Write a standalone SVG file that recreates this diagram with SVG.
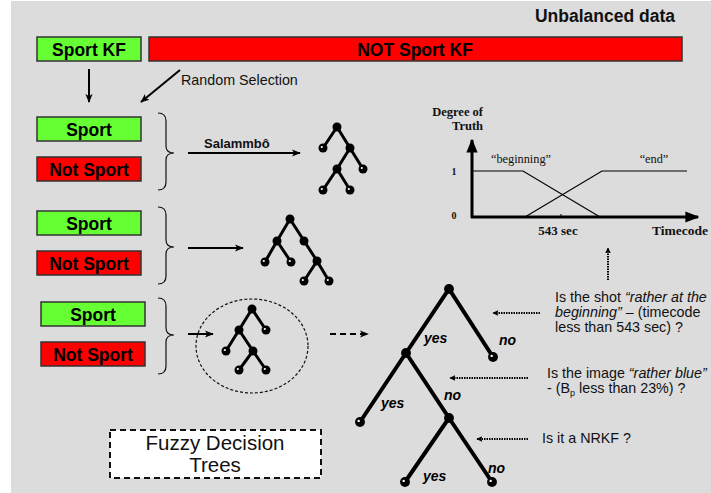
<svg xmlns="http://www.w3.org/2000/svg" width="711" height="493" viewBox="0 0 711 493">
<defs>
<style>
.bg{fill:#dcdcdc}
.g{fill:#66ff33;stroke:#333;stroke-width:1.5}
.r{fill:#ff0000;stroke:#333;stroke-width:1.5}
.bt{font-family:"Liberation Sans",Arial,sans-serif;font-weight:bold;font-size:17.5px;text-anchor:middle;fill:#000}
.t{font-family:"Liberation Sans",Arial,sans-serif;font-size:14.3px;fill:#111}
.s{font-family:"Liberation Serif","Times New Roman",serif;fill:#111}
.ln{stroke:#000;fill:none}
.br{stroke:#111;fill:none;stroke-width:1.2}
.tr{stroke:#000;stroke-width:3;fill:none;stroke-linecap:round}
.bigtr{stroke:#000;stroke-width:4;fill:none;stroke-linecap:round}
.yn{font-family:"Liberation Sans",Arial,sans-serif;font-weight:bold;font-style:italic;font-size:14px;fill:#000}
.dot{stroke:#000;stroke-width:2;stroke-dasharray:1.5 1;fill:none}
</style>
<marker id="ah" viewBox="0 0 10 10" refX="9" refY="5" markerWidth="6" markerHeight="6" orient="auto" markerUnits="userSpaceOnUse">
<path d="M0,0 L10,5 L0,10 L2,5 Z" fill="#000"/>
</marker>
<marker id="ahs" viewBox="0 0 10 10" refX="9" refY="5" markerWidth="9" markerHeight="9" orient="auto" markerUnits="userSpaceOnUse">
<path d="M0,1 L10,5 L0,9 L2.5,5 Z" fill="#000"/>
</marker>
<marker id="ahb" viewBox="0 0 10 10" refX="9" refY="5" markerWidth="14" markerHeight="14" orient="auto" markerUnits="userSpaceOnUse">
<path d="M0,1 L10,5 L0,9 Z" fill="#000"/>
</marker>
<g id="node">
<circle r="4.5" fill="#000"/>
</g>
<g id="leaf">
<circle r="4.5" fill="#000"/>
<circle cx="-1.2" cy="-1" r="1.1" fill="#fff"/>
</g>
</defs>

<rect class="bg" x="11" y="1" width="700" height="492"/>

<text x="675" y="22" font-family="Liberation Sans,Arial,sans-serif" font-weight="bold" font-size="17.5" text-anchor="end" fill="#111">Unbalanced data</text>

<g id="sportkf"><rect class="g" x="37" y="37" width="104" height="24"/><text class="bt" x="89" y="55.5">Sport KF</text></g>
<g id="notsportkf"><rect class="r" x="149" y="37" width="533" height="24"/><text class="bt" x="415" y="55.5">NOT Sport KF</text></g>

<g id="sport1"><rect class="g" x="37" y="117" width="104" height="24"/><text class="bt" x="89" y="135.5">Sport</text></g>
<g id="notsport1"><rect class="r" x="37" y="157" width="104" height="24"/><text class="bt" x="89" y="175.5">Not Sport</text></g>
<g id="sport2"><rect class="g" x="37" y="211" width="104" height="24"/><text class="bt" x="89" y="229.5">Sport</text></g>
<g id="notsport2"><rect class="r" x="37" y="251" width="104" height="24"/><text class="bt" x="89" y="269.5">Not Sport</text></g>
<g id="sport3"><rect class="g" x="41" y="302" width="104" height="24"/><text class="bt" x="93" y="320.5">Sport</text></g>
<g id="notsport3"><rect class="r" x="41" y="342" width="104" height="24"/><text class="bt" x="93" y="360.5">Not Sport</text></g>

<g id="braces">
<path class="br" d="M158,113 Q166,113 166,121 L166,146 Q166,153 174,153 Q166,153 166,160 L166,182 Q166,190 158,190"/>
<path class="br" d="M158,207 Q166,207 166,215 L166,240 Q166,247 174,247 Q166,247 166,254 L166,276 Q166,284 158,284"/>
<path class="br" d="M158,298 Q166,298 166,306 L166,328 Q166,335 174,335 Q166,335 166,342 L166,366 Q166,374 158,374"/>
</g>

<g id="connectors">
<line class="ln" stroke-width="2" x1="89" y1="69" x2="89" y2="102" marker-end="url(#ahs)"/>
<line class="ln" stroke-width="2" x1="180" y1="70" x2="141" y2="102" marker-end="url(#ahs)"/>
<line class="ln" stroke-width="2" x1="188" y1="153" x2="300" y2="153" marker-end="url(#ahs)"/>
<line class="ln" stroke-width="2" x1="188" y1="248" x2="243" y2="248" marker-end="url(#ahs)"/>
<line class="ln" stroke-width="2" x1="188" y1="334" x2="213" y2="334" marker-end="url(#ahs)"/>
<line class="ln" stroke-width="2" stroke-dasharray="6 4" x1="330" y1="334" x2="368" y2="334" marker-end="url(#ahs)"/>
<line class="dot" x1="540" y1="313" x2="493" y2="313" marker-end="url(#ah)"/>
<line class="dot" x1="528" y1="378" x2="450" y2="378" marker-end="url(#ah)"/>
<line class="dot" x1="528" y1="439" x2="477" y2="439" marker-end="url(#ah)"/>
<line class="dot" x1="608" y1="280" x2="608" y2="248" marker-end="url(#ah)"/>
</g>

<text class="t" x="181" y="85">Random Selection</text>
<text x="204" y="148" font-family="Liberation Sans,Arial,sans-serif" font-weight="bold" font-size="13" fill="#111">Salammbô</text>

<g id="tree1">
<path class="tr" d="M323,148 L337,127 L363,169 M350,148 L337,169 L323,190 M337,169 L350,190"/>
<use href="#node" x="337" y="127"/><use href="#leaf" x="323" y="148"/><use href="#node" x="350" y="148"/>
<use href="#leaf" x="363" y="169"/><use href="#node" x="337" y="169"/><use href="#leaf" x="323" y="190"/><use href="#leaf" x="350" y="190"/>
</g>

<g id="tree2">
<path class="tr" d="M265,262 L277,241 L290,219 L317,261 L304,281 M277,241 L291,262 M317,261 L329,281"/>
<use href="#node" x="290" y="219"/><use href="#node" x="277" y="241"/><use href="#node" x="304" y="241"/>
<use href="#leaf" x="265" y="262"/><use href="#leaf" x="291" y="262"/><use href="#node" x="317" y="261"/>
<use href="#leaf" x="304" y="281"/><use href="#leaf" x="329" y="281"/>
</g>

<g id="tree3">
<ellipse cx="252" cy="346" rx="56" ry="47" fill="none" stroke="#111" stroke-width="1.2" stroke-dasharray="3 2"/>
<path class="tr" d="M226,351 L239,330 L252,309 L266,330 M239,330 L253,351 L239,370 M253,351 L266,370"/>
<use href="#node" x="252" y="309"/><use href="#node" x="239" y="330"/><use href="#leaf" x="266" y="330"/>
<use href="#leaf" x="226" y="351"/><use href="#node" x="253" y="351"/><use href="#leaf" x="239" y="370"/><use href="#leaf" x="266" y="370"/>
</g>

<g id="fuzzy">
<rect x="110" y="430" width="211" height="48" fill="#fff" stroke="#111" stroke-width="2" stroke-dasharray="6 4"/>
<text x="215" y="450" font-family="Liberation Sans,Arial,sans-serif" font-size="20.5" text-anchor="middle" fill="#111">Fuzzy Decision</text>
<text x="215" y="472" font-family="Liberation Sans,Arial,sans-serif" font-size="20.5" text-anchor="middle" fill="#111">Trees</text>
</g>

<g id="bigtree">
<path class="bigtr" d="M360,422 L406,353 L449,289 L493,357 M406,353 L449,418 L405,482 M449,418 L492,482"/>
<g transform="translate(449,289) scale(1.1)"><use href="#node"/></g>
<g transform="translate(406,353) scale(1.1)"><use href="#node"/></g>
<g transform="translate(449,418) scale(1.1)"><use href="#node"/></g>
<g transform="translate(493,357) scale(1.1)"><use href="#leaf"/></g>
<g transform="translate(360,422) scale(1.1)"><use href="#leaf"/></g>
<g transform="translate(405,482) scale(1.1)"><use href="#leaf"/></g>
<g transform="translate(492,482) scale(1.1)"><use href="#leaf"/></g>
<text class="yn" x="424" y="343">yes</text>
<text class="yn" x="499" y="345">no</text>
<text class="yn" x="381" y="408">yes</text>
<text class="yn" x="444" y="400">no</text>
<text class="yn" x="423" y="481">yes</text>
<text class="yn" x="488" y="473">no</text>
</g>

<g id="questions">
<text class="t" x="555" y="302">Is the shot <tspan font-style="italic">“rather at the</tspan></text>
<text class="t" x="555" y="317"><tspan font-style="italic">beginning”</tspan> – (timecode</text>
<text class="t" x="555" y="332">less than 543 sec) ?</text>
<text class="t" x="547" y="378">Is the image <tspan font-style="italic">“rather blue”</tspan></text>
<text class="t" x="547" y="393">- (B<tspan font-size="9" dy="3">p</tspan><tspan dy="-3"> less than 23%) ?</tspan></text>
<text class="t" x="542" y="443">Is it a NRKF ?</text>
</g>

<g id="chart">
<line class="ln" stroke-width="3" x1="472" y1="218" x2="472" y2="140" marker-end="url(#ahb)"/>
<line class="ln" stroke-width="3" x1="471" y1="217" x2="698" y2="217" marker-end="url(#ahb)"/>
<polyline class="ln" stroke-width="1.2" points="472,171 523,171 600,217"/>
<polyline class="ln" stroke-width="1.2" points="525,217 602,171 687,171"/>
<line class="ln" stroke-width="1" x1="561" y1="214" x2="561" y2="217"/>
<text class="s" x="483" y="116" font-size="12.5" font-weight="bold" text-anchor="end">Degree of</text>
<text class="s" x="483" y="130" font-size="12.5" font-weight="bold" text-anchor="end">Truth</text>
<text class="s" x="454" y="175" font-size="10" font-weight="bold" text-anchor="middle">1</text>
<text class="s" x="454" y="219" font-size="10" font-weight="bold" text-anchor="middle">0</text>
<text class="s" x="521" y="163" font-size="12.3" text-anchor="middle">“beginning”</text>
<text class="s" x="654" y="163" font-size="12.3" text-anchor="middle">“end”</text>
<text class="s" x="558" y="235" font-size="13" font-weight="bold" text-anchor="middle">543 sec</text>
<text class="s" x="680" y="235" font-size="13.5" font-weight="bold" text-anchor="middle">Timecode</text>
</g>
</svg>
